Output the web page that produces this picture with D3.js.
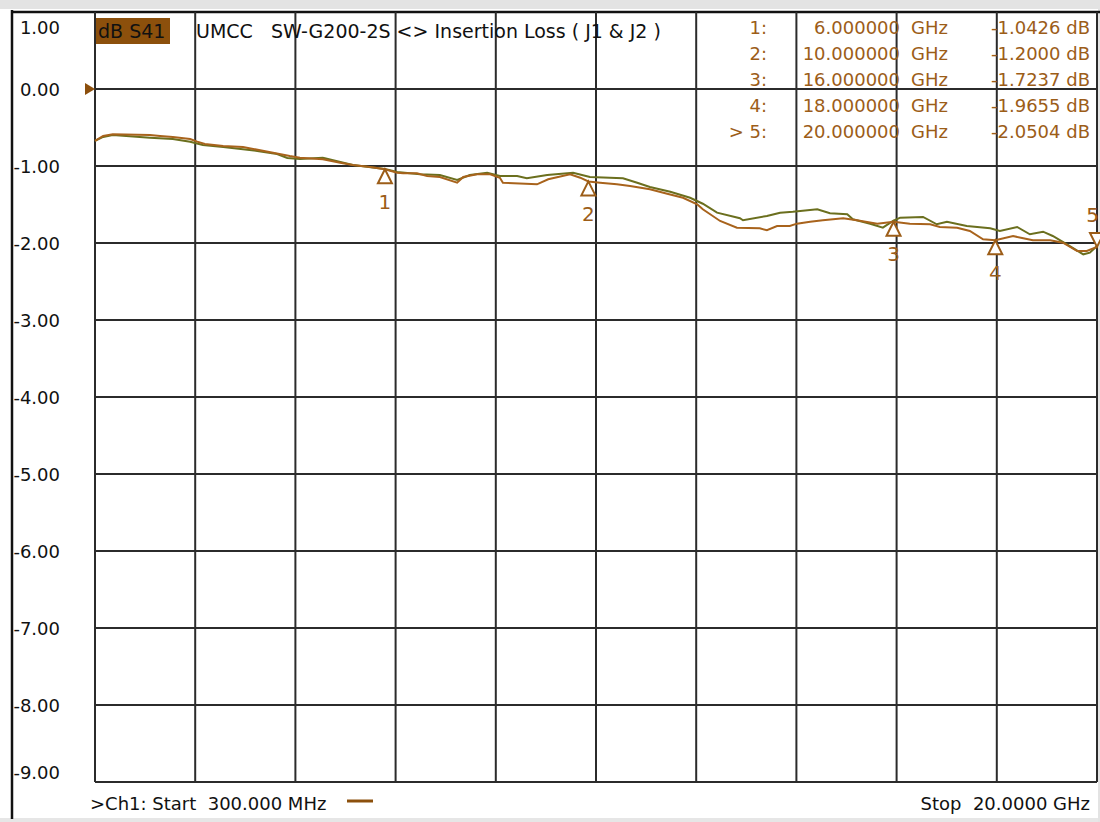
<!DOCTYPE html>
<html>
<head>
<meta charset="utf-8">
<script src="https://cdn.jsdelivr.net/npm/d3@7"></script>
<style>
  html, body { margin: 0; padding: 0; background: #ffffff; }
  svg { display: block; }
  text { font-family: "DejaVu Sans", sans-serif; white-space: pre; }
</style>
</head>
<body>
<svg id="chart" width="1100" height="822"></svg>
<script>
// ---------------- DATA ----------------
const startGHz = 0.3;
const stopGHz = 20;
const yTicks = [1, 0, -1, -2, -3, -4, -5, -6, -7, -8, -9];

// S41 trace (brown, active)
const brownFreq = [0.30,0.46,0.65,1.38,1.58,1.83,2.17,2.31,2.46,2.82,3.21,3.41,3.80,4.13,4.33,4.78,5.12,5.37,5.71,6.00,6.24,6.36,6.63,6.83,7.08,7.42,7.54,7.81,8.07,8.26,8.32,8.99,9.21,9.64,9.84,10.00,10.23,10.56,10.82,11.21,11.55,11.86,12.14,12.25,12.59,12.92,13.37,13.51,13.71,13.96,14.10,14.36,14.61,15.01,15.28,15.68,16.00,16.32,16.72,16.91,17.25,17.50,17.76,18.00,18.35,18.55,18.74,19.08,19.33,19.61,19.80,20.00];
const brownDb = [-0.675,-0.610,-0.588,-0.597,-0.610,-0.623,-0.649,-0.684,-0.714,-0.740,-0.753,-0.779,-0.827,-0.870,-0.892,-0.913,-0.957,-0.987,-1.013,-1.0426,-1.087,-1.095,-1.095,-1.130,-1.143,-1.217,-1.143,-1.108,-1.108,-1.152,-1.217,-1.238,-1.173,-1.108,-1.152,-1.2000,-1.217,-1.238,-1.260,-1.303,-1.360,-1.412,-1.497,-1.562,-1.714,-1.801,-1.809,-1.835,-1.779,-1.779,-1.749,-1.723,-1.705,-1.679,-1.705,-1.749,-1.7237,-1.749,-1.757,-1.792,-1.801,-1.844,-1.952,-1.9655,-1.909,-1.939,-1.965,-1.965,-1.996,-2.104,-2.104,-2.0504];

// second trace (olive)
const oliveFreq = [0.30,0.46,0.65,1.38,1.83,2.17,2.42,2.82,3.49,3.88,4.08,4.33,4.78,5.37,6.00,6.24,6.69,7.08,7.42,7.67,8.01,8.26,8.60,8.79,9.19,9.70,10.03,10.68,10.96,11.21,11.61,12.00,12.25,12.53,12.98,13.04,13.51,13.77,14.02,14.50,14.75,15.09,15.20,15.54,15.79,15.99,16.13,16.58,16.85,17.05,17.44,17.90,18.09,18.43,18.68,18.94,19.13,19.41,19.73,19.86,20.00];
const oliveDb = [-0.675,-0.623,-0.597,-0.632,-0.649,-0.684,-0.727,-0.753,-0.805,-0.844,-0.896,-0.909,-0.892,-0.987,-1.039,-1.078,-1.108,-1.117,-1.182,-1.117,-1.087,-1.130,-1.130,-1.160,-1.117,-1.087,-1.143,-1.160,-1.217,-1.273,-1.334,-1.412,-1.490,-1.606,-1.679,-1.705,-1.649,-1.606,-1.594,-1.562,-1.614,-1.627,-1.692,-1.749,-1.801,-1.714,-1.671,-1.662,-1.757,-1.723,-1.779,-1.809,-1.844,-1.792,-1.887,-1.853,-1.909,-2.017,-2.147,-2.126,-2.039];

// markers
const markerIds = ["1", "2", "3", "4", "5"];
const markerFreq = [6, 10, 16, 18, 20];
const markerDb = [-1.0426, -1.2000, -1.7237, -1.9655, -2.0504];
const markerRowLabels = ["1:", "2:", "3:", "4:", "> 5:"];
const markerFreqText = ["6.000000", "10.000000", "16.000000", "18.000000", "20.000000"];
const markerDbText = ["-1.0426 dB", "-1.2000 dB", "-1.7237 dB", "-1.9655 dB", "-2.0504 dB"];
const activeMarker = 4;

const traceName = "dB S41";
const titleText = "UMCC   SW-G200-2S <> Insertion Loss ( J1 & J2 )";
const startText = ">Ch1: Start  300.000 MHz";
const stopText = "Stop  20.0000 GHz";

(function draw() {
  const cBrown = "#a8631c";
  const cOlive = "#6b6f1e";
  const cMarkTxt = "#9c5d18";
  const cGrid = "#2b2b2b";

  const svg = d3.select("#chart");
  const W = 1100, H = 822;
  const pLeft = 95, pRight = 1097, pTop = 12, pBottom = 782;

  const x = d3.scaleLinear().domain([startGHz, stopGHz]).range([pLeft, pRight]);
  const y = d3.scaleLinear().domain([-9, 1]).range([pBottom, pTop]);

  // background bands
  svg.append("rect").attr("x", 0).attr("y", 0).attr("width", W).attr("height", H).attr("fill", "#ffffff");
  svg.append("rect").attr("x", 0).attr("y", 0).attr("width", W).attr("height", 9).attr("fill", "#e3e3e3");
  svg.append("rect").attr("x", 0).attr("y", 818).attr("width", W).attr("height", 4).attr("fill", "#e6e6e6");
  svg.append("rect").attr("x", 1098).attr("y", 0).attr("width", 2).attr("height", H).attr("fill", "#e3e3e3");

  // frame
  svg.append("line").attr("x1", 12).attr("x2", 12).attr("y1", 10).attr("y2", 819)
    .attr("stroke", "#111").attr("stroke-width", 2.5);
  svg.append("line").attr("x1", 11).attr("x2", W).attr("y1", y(1)).attr("y2", y(1))
    .attr("stroke", "#111").attr("stroke-width", 2.5);

  // grid
  const xGrid = d3.range(11).map(i => startGHz + i * (stopGHz - startGHz) / 10);
  const grid = svg.append("g");
  grid.selectAll("line.h").data(yTicks.slice(1)).join("line").attr("class", "h")
    .attr("x1", pLeft).attr("x2", pRight)
    .attr("y1", d => y(d)).attr("y2", d => y(d))
    .attr("stroke", cGrid).attr("stroke-width", 2);
  grid.selectAll("line.v").data(xGrid).join("line").attr("class", "v")
    .attr("x1", d => x(d)).attr("x2", d => x(d))
    .attr("y1", pTop).attr("y2", pBottom)
    .attr("stroke", cGrid).attr("stroke-width", 2);

  // y labels
  svg.append("g").selectAll("text").data(yTicks).join("text")
    .attr("x", 60)
    .attr("y", d => Math.min(Math.max(y(d), 27), 772) + 6.6)
    .attr("text-anchor", "end")
    .attr("font-size", 18)
    .attr("fill", "#111")
    .text(d => d.toFixed(2));

  // reference arrow at 0 dB
  svg.append("path")
    .attr("d", `M${pLeft - 10},${y(0) - 6} L${pLeft},${y(0)} L${pLeft - 10},${y(0) + 6} Z`)
    .attr("fill", "#8c4f0c");

  // header
  svg.append("rect").attr("x", 96).attr("y", 18).attr("width", 74).attr("height", 26).attr("fill", "#8c500c");
  svg.append("text").attr("x", 98).attr("y", 38).attr("font-size", 19).attr("fill", "#111").text(traceName);
  svg.append("text").attr("x", 196).attr("y", 38).attr("font-size", 19).attr("fill", "#111").text(titleText);

  // marker table
  const rowY = (i) => 27 + i * 26 + 6.6;
  const table = svg.append("g").attr("font-size", 18).attr("fill", cMarkTxt);
  table.selectAll("text.lab").data(markerRowLabels).join("text").attr("class", "lab")
    .attr("x", 767).attr("y", (d, i) => rowY(i)).attr("text-anchor", "end").text(d => d);
  table.selectAll("text.frq").data(markerFreqText).join("text").attr("class", "frq")
    .attr("x", 900).attr("y", (d, i) => rowY(i)).attr("text-anchor", "end").text(d => d);
  table.selectAll("text.ghz").data(markerFreqText).join("text").attr("class", "ghz")
    .attr("x", 911).attr("y", (d, i) => rowY(i)).text("GHz");
  table.selectAll("text.db").data(markerDbText).join("text").attr("class", "db")
    .attr("x", 1090).attr("y", (d, i) => rowY(i)).attr("text-anchor", "end").text(d => d);

  // traces
  const line = d3.line().x(d => x(d[0])).y(d => y(d[1]));
  svg.append("path").datum(d3.zip(oliveFreq, oliveDb)).attr("d", line)
    .attr("fill", "none").attr("stroke", cOlive).attr("stroke-width", 2);
  svg.append("path").datum(d3.zip(brownFreq, brownDb)).attr("d", line)
    .attr("fill", "none").attr("stroke", cBrown).attr("stroke-width", 2);

  // markers
  const mk = svg.append("g");
  markerIds.forEach((id, i) => {
    const mx = x(markerFreq[i]), my = y(markerDb[i]);
    const active = i === activeMarker;
    const tri = active
      ? `M${mx},${my} L${mx - 7},${my - 14} L${mx + 7},${my - 14} Z`
      : `M${mx},${my} L${mx - 7},${my + 14} L${mx + 7},${my + 14} Z`;
    mk.append("path").attr("d", tri).attr("fill", "#ffffff")
      .attr("stroke", cMarkTxt).attr("stroke-width", 2);
    mk.append("text")
      .attr("x", active ? Math.min(mx + 6, W - 1) : mx)
      .attr("y", active ? my - 25 : my + 32 + 7.3)
      .attr("text-anchor", active ? "end" : "middle")
      .attr("font-size", 20).attr("fill", cMarkTxt).text(id);
  });

  // footer
  svg.append("text").attr("x", 90).attr("y", 809.6).attr("font-size", 18).attr("fill", "#111").text(startText);
  svg.append("line").attr("x1", 347).attr("x2", 373).attr("y1", 801).attr("y2", 801)
    .attr("stroke", "#8c500c").attr("stroke-width", 3);
  svg.append("text").attr("x", 1090).attr("y", 809.6).attr("text-anchor", "end").attr("font-size", 18).attr("fill", "#111").text(stopText);
})();
</script>
</body>
</html>
